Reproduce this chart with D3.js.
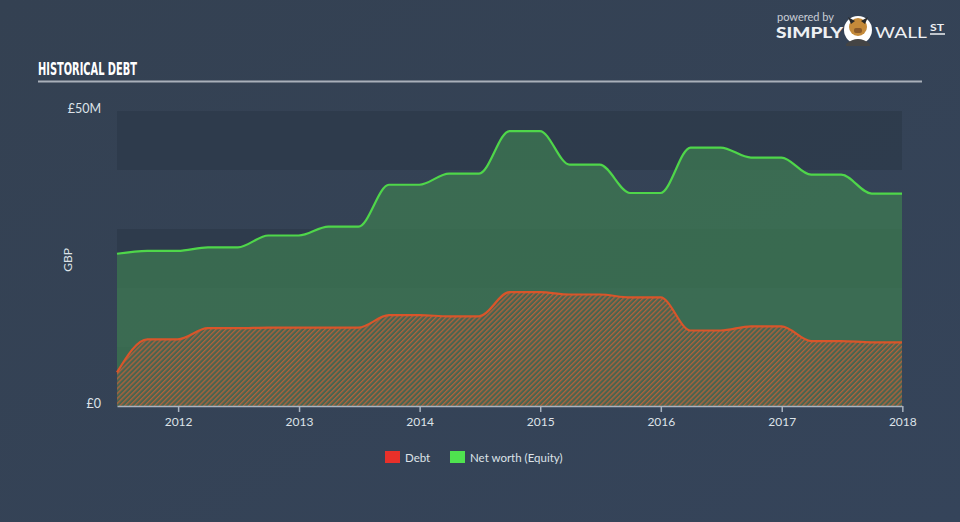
<!DOCTYPE html>
<html><head><meta charset="utf-8">
<script src="https://cdn.jsdelivr.net/npm/d3@7"></script>
<style>
html,body{margin:0;padding:0;background:#344253;}
svg{display:block;}
</style></head>
<body>
<svg id="c" width="960" height="522"></svg>
<script>
const dates = ["2011-06-30","2011-09-30","2011-12-31","2012-03-31","2012-06-30","2012-09-30","2012-12-31",
  "2013-03-31","2013-06-30","2013-09-30","2013-12-31","2014-03-31","2014-06-30","2014-09-30","2014-12-31",
  "2015-03-31","2015-06-30","2015-09-30","2015-12-31","2016-03-31","2016-06-30","2016-09-30","2016-12-31",
  "2017-03-31","2017-06-30","2017-09-30","2017-12-31"];
const equity = [25.8,26.3,26.3,26.9,26.9,28.9,28.9,30.4,30.4,37.5,37.5,39.4,39.4,46.6,46.6,
  40.9,40.9,36.1,36.1,43.8,43.8,42.1,42.1,39.2,39.2,36.0,36.0];
const debt = [5.7,11.3,11.3,13.2,13.2,13.3,13.3,13.3,13.3,15.4,15.4,15.2,15.2,19.3,19.3,
  18.9,18.9,18.4,18.4,12.8,12.8,13.5,13.5,11.0,11.0,10.8,10.8];
const xTickYears = [2012,2013,2014,2015,2016,2017,2018];
const yTicks = [0,50];
const yTickLabels = ["£0","£50M"];
const legendLabels = ["Debt","Net worth (Equity)"];
const legendColors = ["#e8302a","#4fe34f"];

const svg = d3.select("#c");
const parse = d3.timeParse("%Y-%m-%d");
const data = dates.map((d,i)=>({t:parse(d), e:equity[i], d:debt[i]}));

const L=117, R=902, T=111, B=406;
const x = d3.scaleTime().domain([parse("2011-06-30"), parse("2017-12-31")]).range([L,R]);
const y = d3.scaleLinear().domain([0,50]).range([B,T]);

const defs = svg.append("defs");
const bg = defs.append("linearGradient").attr("id","bg").attr("x1",0).attr("y1",0).attr("x2",1).attr("y2",1);
bg.append("stop").attr("offset","0%").attr("stop-color","#344152");
bg.append("stop").attr("offset","100%").attr("stop-color","#35445a");
svg.append("rect").attr("width",960).attr("height",522).attr("fill","url(#bg)");

const pat = defs.append("pattern").attr("id","hatch").attr("patternUnits","userSpaceOnUse")
  .attr("width",3.5).attr("height",3.5).attr("patternTransform","rotate(45)");
pat.append("rect").attr("width",3.5).attr("height",3.5).attr("fill","#4a644f");
pat.append("rect").attr("width",1.3).attr("height",3.5).attr("fill","#b0623c");

// title
svg.append("text").attr("x",38).attr("y",75).text("HISTORICAL DEBT")
  .attr("font-family","'Liberation Sans Narrow','DejaVu Sans Condensed',sans-serif")
  .attr("font-weight","bold").attr("font-size",18).attr("fill","#ffffff")
  .attr("textLength",99).attr("lengthAdjust","spacingAndGlyphs");
svg.append("line").attr("x1",38).attr("x2",922).attr("y1",81.5).attr("y2",81.5)
  .attr("stroke","#a9b0ba").attr("stroke-width",2);

// logo
const lg = svg.append("g").attr("font-family","Lato, 'Open Sans', sans-serif");
lg.append("text").attr("x",777).attr("y",21).text("powered by").attr("font-size",10.5).attr("fill","#c9ced6")
  .attr("textLength",57).attr("lengthAdjust","spacingAndGlyphs");
lg.append("text").attr("x",776).attr("y",38).text("SIMPLY").attr("font-size",15).attr("font-weight","900").attr("fill","#eef0f3")
  .attr("textLength",67).attr("lengthAdjust","spacingAndGlyphs");
lg.append("circle").attr("cx",858).attr("cy",30).attr("r",14).attr("fill","#ffffff");
lg.append("circle").attr("cx",858).attr("cy",27).attr("r",9).attr("fill","#c48a3a");
lg.append("path").attr("d","M848,17 L851,24 L855,21 Z M868,17 L865,24 L861,21 Z").attr("fill","#2a2a2a");
lg.append("path").attr("d","M846,44 Q858,34 870,44 L870,46 L846,46 Z").attr("fill","#444");
lg.append("rect").attr("x",854).attr("y",28).attr("width",8).attr("height",5).attr("rx",2).attr("fill","#8a5a2a");
lg.append("text").attr("x",875).attr("y",38).text("WALL").attr("font-size",15).attr("font-weight","normal").attr("fill","#eef0f3")
  .attr("textLength",52).attr("lengthAdjust","spacingAndGlyphs");
lg.append("text").attr("x",930).attr("y",31).text("ST").attr("font-size",10).attr("font-weight","bold").attr("fill","#eef0f3")
  .attr("textLength",14).attr("lengthAdjust","spacingAndGlyphs");
lg.append("line").attr("x1",930).attr("x2",945).attr("y1",34).attr("y2",34).attr("stroke","#eef0f3").attr("stroke-width",1.5);

// bands
const bands = [[40,50],[20,30],[0,10]];
svg.selectAll("rect.band").data(bands).enter().append("rect").attr("class","band")
  .attr("x",L).attr("width",R-L).attr("y",d=>y(d[1])).attr("height",d=>y(d[0])-y(d[1]))
  .attr("fill","#2c3a4a").attr("opacity",0.75);

const curve = d3.curveMonotoneX;
const eqArea = d3.area().x(d=>x(d.t)).y0(B).y1(d=>y(d.e)).curve(curve);
const eqLine = d3.line().x(d=>x(d.t)).y(d=>y(d.e)).curve(curve);
const dArea = d3.area().x(d=>x(d.t)).y0(B).y1(d=>y(d.d)).curve(curve);
const dLine = d3.line().x(d=>x(d.t)).y(d=>y(d.d)).curve(curve);

svg.append("path").datum(data).attr("d",eqArea).attr("fill","#3e7a52").attr("opacity",0.75);
svg.append("path").datum(data).attr("d",dArea).attr("fill","url(#hatch)");
svg.append("path").datum(data).attr("d",eqLine).attr("fill","none").attr("stroke","#4fd64a").attr("stroke-width",2.2);
svg.append("path").datum(data).attr("d",dLine).attr("fill","none").attr("stroke","#d9552a").attr("stroke-width",2.2);

// x axis
const xAxis = d3.axisBottom(x).tickValues(xTickYears.map(yr=>new Date(yr,0,1)))
  .tickFormat(d3.timeFormat("%Y")).tickSize(6).tickSizeOuter(0);
const gx = svg.append("g").attr("transform",`translate(0,${B})`).call(xAxis);
gx.select(".domain").attr("stroke","#aab4c0").attr("stroke-width",1.5);
gx.selectAll(".tick line").attr("stroke","#aab4c0").attr("stroke-width",1.5);
gx.selectAll(".tick text").attr("fill","#dde2e8").attr("font-size",12)
  .attr("font-family","Lato, 'Open Sans', sans-serif").attr("dy","0.9em");

// y labels
svg.selectAll("text.yl").data(yTicks).enter().append("text").attr("class","yl")
  .attr("x",101).attr("y",d=>y(d)+2).attr("text-anchor","end")
  .text((d,i)=>yTickLabels[i]).attr("fill","#dde2e8").attr("font-size",12.5)
  .attr("font-family","Lato, 'Open Sans', sans-serif");
svg.append("text").attr("transform","translate(72,260) rotate(-90)").attr("text-anchor","middle")
  .text("GBP").attr("fill","#dde2e8").attr("font-size",12).attr("font-family","Lato, 'Open Sans', sans-serif");

// legend
const lgX = [385,450];
const leg = svg.selectAll("g.leg").data(legendLabels).enter().append("g").attr("class","leg")
  .attr("transform",(d,i)=>`translate(${lgX[i]},451)`);
leg.append("rect").attr("width",15).attr("height",12).attr("fill",(d,i)=>legendColors[i]);
leg.append("text").attr("x",20).attr("y",10.5).text(d=>d).attr("fill","#dde2e8").attr("font-size",11.5)
  .attr("font-family","Lato, 'Open Sans', sans-serif");
</script>
</body></html>
